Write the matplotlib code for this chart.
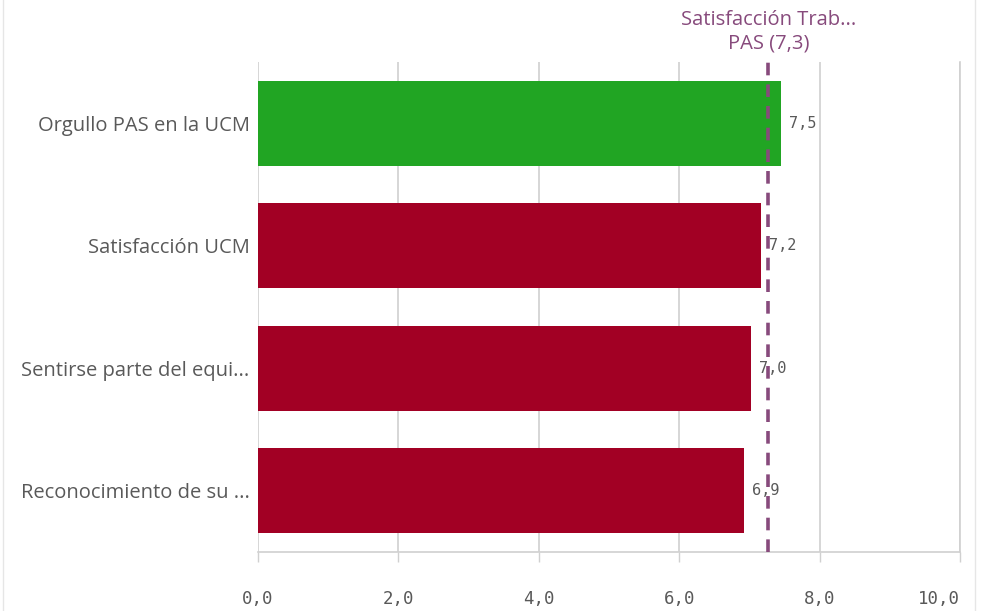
import matplotlib.pyplot as plt
from matplotlib.lines import Line2D

# data
categories = ['Orgullo PAS en la UCM', 'Satisfacción UCM',
              'Sentirse parte del equi...', 'Reconocimiento de su ...']
values = [7.45, 7.16, 7.02, 6.92]
value_labels = ['7,5', '7,2', '7,0', '6,9']
bar_colors = ['#21a523', '#a20024', '#a20024', '#a20024']
ref_value = 7.27
ref_label = 'Satisfacción Trab...\nPAS (7,3)'
xticks = [0, 2, 4, 6, 8, 10]
xtick_labels = ['0,0', '2,0', '4,0', '6,0', '8,0', '10,0']

fig = plt.figure(figsize=(9.83, 6.11), dpi=100)
ax = fig.add_axes([258 / 983, 1 - 552 / 611, 702 / 983, 490 / 611])

y = list(range(len(categories)))
ax.barh(y, values, height=0.69, color=bar_colors, zorder=3)

for yi, v, lab in zip(y, values, value_labels):
    ax.annotate(lab, (v, yi), xytext=(6, 0), textcoords='offset points',
                va='center', ha='left', fontsize=11, color='#595959',
                family='DejaVu Sans Mono', zorder=5)

ax.axvline(ref_value, color='#874a7c', linestyle=(0, (3.5, 2.5)),
           linewidth=2.6, zorder=4)
ax.annotate(ref_label, (ref_value, 1), xycoords=('data', 'figure fraction'),
            xytext=(0, -7), textcoords='offset points',
            ha='center', va='top', fontsize=14.5, color='#874a7c',
            family='Open Sans', linespacing=1.22)

ax.set_xlim(0, 10)
ax.set_ylim(3.5, -0.5)
ax.set_xticks(xticks)
ax.set_xticklabels(xtick_labels, family='DejaVu Sans Mono', fontsize=12.5,
                   color='#595959')
last = ax.get_xticklabels()[-1]
last.set_horizontalalignment('right')
ax.set_yticks(y)
ax.set_yticklabels(categories, family='Open Sans', fontsize=14.5,
                   color='#595959')
ax.tick_params(axis='y', length=0, pad=6)
ax.tick_params(axis='x', length=7, width=1, color='#d0d0d0', pad=20)
ax.grid(axis='x', color='#d0d0d0', linewidth=1.2, zorder=0)

for side in ['top', 'left']:
    ax.spines[side].set_visible(False)
for side in ['bottom', 'right']:
    ax.spines[side].set_color('#d0d0d0')
    ax.spines[side].set_linewidth(1.2)

# thin panel borders
fig.add_artist(Line2D([3 / 983, 3 / 983], [0, 1], color='#e6e6e6', lw=1))
fig.add_artist(Line2D([975 / 983, 975 / 983], [0, 1], color='#e6e6e6', lw=1))

fig.savefig('out.png', dpi=100)
